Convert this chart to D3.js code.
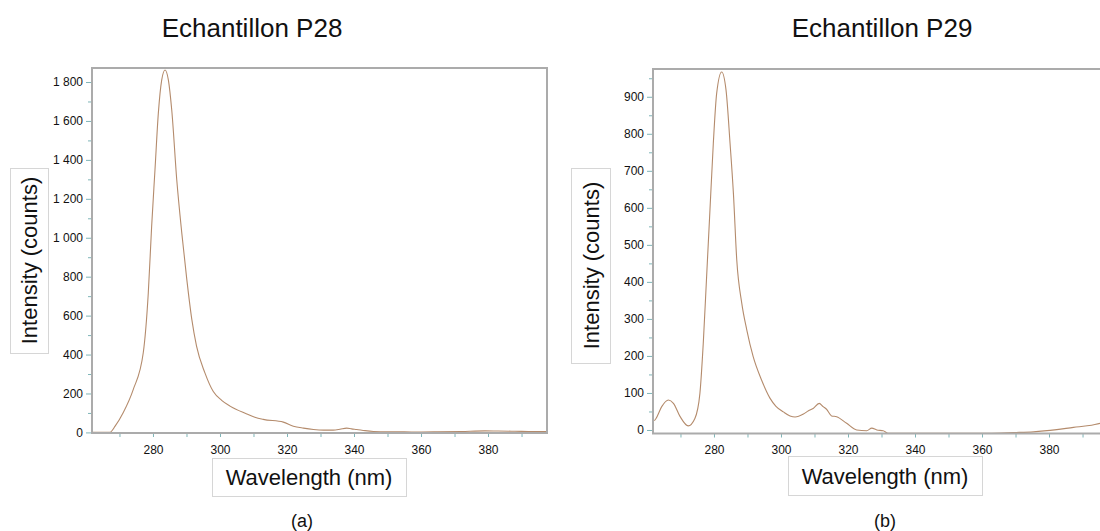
<!DOCTYPE html>
<html><head><meta charset="utf-8">
<script src="https://cdn.jsdelivr.net/npm/d3@7"></script>
<style>body{margin:0;background:#fff}svg{display:block;font-family:"Liberation Sans",Arial,sans-serif}</style>
</head><body>
<svg id="c" width="1100" height="531"></svg>
<script>
// P28 spectrum (wavelength nm, intensity counts)
const p28Wavelength = [262,264,266,267.2,268.7,271.1,274.1,277.1,278.6,279.6,280.6,281.6,282.6,283.6,284.6,285.6,287.1,288.6,290.1,291.6,293.0,295.5,298.0,300.5,303,308,310.4,312.9,318.9,321.9,324.9,327.9,330.9,333.8,335.8,337.8,339.3,340.8,343.3,345.8,350,355,359.3,365,372,379.1,383,388,392,397.5];
const p28Intensity  = [0,0,0,1,32,101,220,409,716,1058,1349,1640,1810,1862,1810,1656,1297,1024,785,579,443,306,210,165,135,95,78,67,53,32,22,15,12,12,16,22,18,15,9,5,3,3,2,3,5,8,7,6,5,4];
// P29 spectrum
const p29Wavelength = [262.2,262.7,264.4,266.4,267.9,269.9,272.3,274.3,275.8,276.8,277.8,278.8,279.8,280.8,282.3,283.6,284.8,285.8,286.8,288.3,289.8,291.7,294.2,296.7,298.5,300.7,302.7,304.2,306.7,308.2,309.6,311.4,312.6,313.6,315.1,316.6,319.6,322.6,325.6,327.1,328.6,330.5,332,342,352,361.9,369.4,375.4,382.3,387.3,392,395.3,397.6];
const p29Intensity  = [25,31,63,81,72,36,11,31,99,234,414,594,774,909,967,918,774,639,459,342,270,198,135,86,64,49,38,35,43,52,58,72,63,56,38,36,18,0,-2,5,0,-2,-9,-9,-9,-9,-7,-5,1,7,12,18,21];

const titles = ["Echantillon P28","Echantillon P29"];
const panelTags = ["(a)","(b)"];
const xTicks = [280,300,320,340,360,380];
const xMinorTicks = [270,290,310,330,350,370,390];
const p28YTicks = [0,200,400,600,800,1000,1200,1400,1600,1800];
const p28YMinor = [100,300,500,700,900,1100,1300,1500,1700];
const p29YTicks = [0,100,200,300,400,500,600,700,800,900];
const p29YMinor = [50,150,250,350,450,550,650,750,850,950];
const yLabel = "Intensity (counts)";
const xLabel = "Wavelength (nm)";

const svg = d3.select("#c");
const fmt = v => v >= 1000 ? d3.format(",")(v).replace(",", " ") : String(v);

const panels = [
  {x:p28Wavelength, y:p28Intensity, left:92, top:68, bottom:433, yDom:[-3,1872], yT:p28YTicks, yM:p28YMinor,
   title:titles[0], titleX:252, tag:panelTags[0], tagX:302,
   ylBox:[10,168,38,185], xlBox:[212,458,194,38]},
  {x:p29Wavelength, y:p29Intensity, left:653, top:69, bottom:433.5, yDom:[-9.5,975], yT:p29YTicks, yM:p29YMinor,
   title:titles[1], titleX:882, tag:panelTags[1], tagX:885,
   ylBox:[571,168,39,195], xlBox:[788,456,194,39]}
];
const W = 455;
const lineColor = "#b48b6c";
const tickColor = "#7fb5b8";

panels.forEach(p => {
  const x = d3.scaleLinear().domain([261.8, 397.6]).range([p.left, p.left + W]);
  const y = d3.scaleLinear().domain(p.yDom).range([p.bottom, p.top]);

  svg.append("text").attr("x", p.titleX).attr("y", 37).attr("text-anchor","middle")
    .attr("font-size", 26).attr("fill","#111").text(p.title);

  // y axis
  const ya = svg.append("g").attr("transform", `translate(${p.left},0)`)
    .call(d3.axisLeft(y).tickValues(p.yT).tickFormat(fmt).tickSize(6).tickPadding(3));
  ya.select(".domain").remove();
  ya.selectAll("line").attr("stroke", tickColor);
  ya.selectAll("text").attr("font-size", 12).attr("fill","#111").attr("font-family","Liberation Sans, Arial");
  const yam = svg.append("g").attr("transform", `translate(${p.left},0)`)
    .call(d3.axisLeft(y).tickValues(p.yM).tickFormat("").tickSize(4));
  yam.select(".domain").remove();
  yam.selectAll("line").attr("stroke", tickColor);

  // x axis
  const xa = svg.append("g").attr("transform", `translate(0,${p.bottom})`)
    .call(d3.axisBottom(x).tickValues(xTicks).tickFormat(d3.format("d")).tickSize(4).tickPadding(8));
  xa.select(".domain").remove();
  xa.selectAll("line").attr("stroke", tickColor);
  xa.selectAll("text").attr("font-size", 12).attr("fill","#111").attr("font-family","Liberation Sans, Arial");
  const xam = svg.append("g").attr("transform", `translate(0,${p.bottom})`)
    .call(d3.axisBottom(x).tickValues(xMinorTicks).tickFormat("").tickSize(4));
  xam.select(".domain").remove();
  xam.selectAll("line").attr("stroke", tickColor);

  // curve
  const data = p.x.map((v,i) => [v, p.y[i]]);
  svg.append("path").datum(data)
    .attr("fill","none").attr("stroke", lineColor).attr("stroke-width", 1.1)
    .attr("d", d3.line().x(d => x(d[0])).y(d => y(d[1])).curve(d3.curveMonotoneX));

  // frame
  svg.append("rect").attr("x", p.left).attr("y", p.top).attr("width", W).attr("height", p.bottom - p.top)
    .attr("fill","none").attr("stroke","#ababab").attr("stroke-width", 2);

  // y label box
  const [bx,by,bw,bh] = p.ylBox;
  svg.append("rect").attr("x",bx+0.5).attr("y",by+0.5).attr("width",bw).attr("height",bh)
    .attr("fill","#fff").attr("stroke","#d6d6d6");
  svg.append("text").attr("transform", `translate(${bx + bw/2 + 8},${by + bh/2}) rotate(-90)`)
    .attr("text-anchor","middle").attr("font-size", 22).attr("fill","#111").text(yLabel);

  // x label box
  const [cx,cy,cw,ch] = p.xlBox;
  svg.append("rect").attr("x",cx+0.5).attr("y",cy+0.5).attr("width",cw).attr("height",ch)
    .attr("fill","#fff").attr("stroke","#d6d6d6");
  svg.append("text").attr("x", cx + cw/2).attr("y", cy + ch/2 + 8)
    .attr("text-anchor","middle").attr("font-size", 22).attr("fill","#111").text(xLabel);

  svg.append("text").attr("x", p.tagX).attr("y", 527).attr("text-anchor","middle")
    .attr("font-size", 18).attr("fill","#111").text(p.tag);
});
</script>
</body></html>
